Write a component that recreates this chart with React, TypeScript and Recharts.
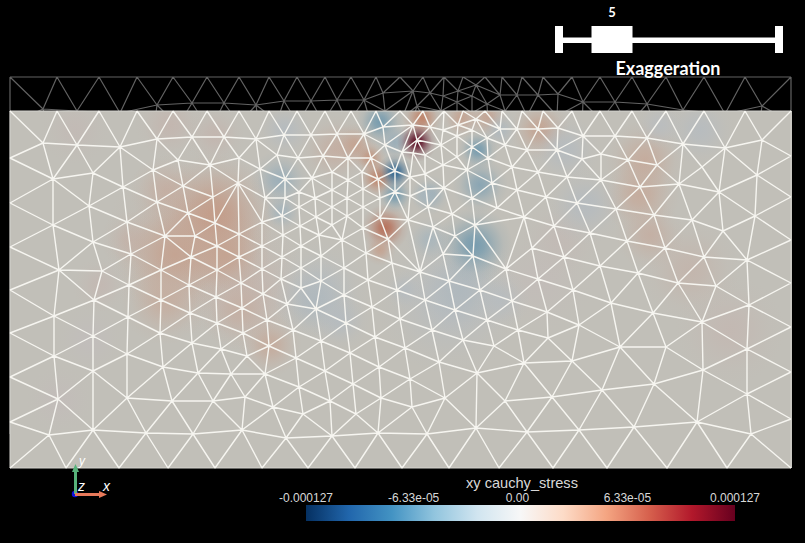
import React from 'react'
import { ComposedChart, Line, Scatter, XAxis, YAxis, ZAxis, ReferenceArea } from 'recharts'

const WIDTH = 805
const HEIGHT = 543

// mesh nodes, in picture units
const topEdge = [[10,111],[57,111],[99,111],[137,111],[173,111],[207,111],[239,111],[269,111],[297,111],[325,111],[351,111],[376,111],[400,111],[423,111],[444,111],[463,111],[485,111],[502,111],[522,111],[543,111],[572,111],[600,111],[632,111],[666,111],[704,111],[745,111],[791,111]]
const bottomEdge = [[10,468],[66,468],[119,468],[168,468],[215,468],[262,468],[308,468],[355,468],[402,468],[449,468],[499,468],[553,468],[607,468],[667,468],[727,468],[791,468]]
const sideEdges = [[10,158],[10,203],[10,247],[10,290],[10,333],[10,377],[10,422],[791,156],[791,197],[791,240],[791,283],[791,327],[791,372],[791,419]]
const leftNodes = [
  [43,143],[77,145],[120,147],[157,139],[192,137],[224,137],[256,139],[284,135],[311,135],[337,134],[364,134],[383,127],[385,145],
  [178,160],[210,165],[239,158],[260,169],[277,155],[298,158],[323,156],[348,158],[371,158],
  [53,179],[93,173],[123,187],[153,170],[183,186],[213,197],[238,183],[265,198],[285,179],[312,178],[332,172],[348,180],[362,172],[378,179],[363,189],[347,198],[332,190],[315,198],[299,192],[285,198],
  [53,225],[89,206],[127,222],[157,202],[188,213],[215,223],[239,234],[262,222],[282,216],[299,207],[316,217],[332,207],[347,216],[363,207],[380,198],[380,218],
  [93,242],[131,254],[165,236],[195,236],[217,246],[239,257],[262,246],[283,235],[300,226],[319,235],[332,225],[342,240],[363,228],[388,239],
  [59,270],[102,271],[161,270],[191,257],[217,270],[262,269],[282,257],[301,246],[301,268],[321,256],[344,268],[366,253],[392,263],
  [129,285],[94,300],[54,316],[161,300],[189,285],[216,297],[241,283],[263,294],[281,279],[301,288],[321,281],[344,295],[368,280],[397,290],
  [128,317],[190,313],[217,323],[242,308],[267,320],[287,304],[316,309],[346,323],[372,307],[400,319],
  [93,336],[160,333],[192,343],[221,349],[243,333],[269,346],[293,330],[321,341],[350,353],[375,337],
  [54,356],[127,354],[247,356],[296,358],[325,371],[353,384],[379,367],
  [93,371],[163,367],[198,373],[231,374],[265,374],[299,387],[330,401],[356,414],[381,398],
  [58,399],[127,398],[172,401],[213,401],[245,397],[273,407],[303,414],
  [49,435],[93,430],[146,433],[193,434],[242,430],[286,438],[332,436],[378,433],
]
const centerNodes = [
  [395,171],[395,192],[402,152],[413,153],[425,155],[417,140],[413,125],[430,127],[443,130],[441,145],[458,125],[457,136],[476,119],[472,130],[487,138],[472,147],[457,157],[488,158],
  [443,165],[467,170],[425,174],[410,177],[426,189],[444,188],[492,183],[472,198],[410,196],[428,207],[452,214],[497,208],[408,220],[433,227],[475,225],[455,236],[443,254],[473,256],[420,272],[506,269],
]
const rightNodes = [
  [500,129],[517,129],[538,129],[558,128],[583,136],[615,136],[647,138],[683,144],[725,148],[762,140],
  [505,145],[527,150],[557,150],[582,159],[601,154],[628,160],[657,165],[702,167],
  [512,167],[538,172],[567,177],[601,180],[640,187],[679,184],[719,192],[757,175],
  [517,190],[546,197],[577,203],[616,209],[654,215],[692,220],[723,231],[755,216],
  [524,217],[554,226],[590,233],[627,241],[665,248],[704,257],[747,260],
  [532,248],[564,257],[600,266],[638,273],[678,283],[716,286],
  [449,281],[480,290],[512,301],[538,279],[573,290],[611,303],[653,313],[702,322],[749,305],
  [425,300],[455,310],[487,320],[518,330],[547,312],[579,325],[620,347],[666,347],[747,349],
  [432,330],[463,340],[494,346],[524,363],[548,338],[572,361],[602,390],[654,384],[703,370],[747,394],
  [405,348],[439,362],[477,373],[410,379],[445,398],[505,401],[552,397],[697,422],[751,434],
  [412,407],[476,428],[427,434],[527,432],[579,430],[634,427],
]

// stress patches: centre x, centre y, reach, stress (1e-5)
const heatX = [200,250,450,320,540,60,90,75,170,215,165,130,100,215,175,225,165,240,270,335,730,690,645,640,650,560,540,285,315,340,460,500,565,585,700,660,405,430,430,280,282,355,462,488,500,422,380,395,478,480,475,378,385,380,370,395,395,425,417]
const heatY = [240,290,300,290,280,400,340,130,125,135,190,240,285,215,255,255,300,310,345,150,330,270,160,195,235,240,130,130,300,320,290,300,150,205,130,125,290,240,195,180,212,145,118,118,130,118,122,142,150,185,245,178,228,250,158,195,172,195,142]
const heatReach = [95,65,75,50,55,35,35,35,35,30,35,30,28,60,60,45,45,40,32,35,55,50,40,40,35,40,30,28,40,30,45,30,35,40,35,25,20,24,20,30,20,22,20,20,20,20,24,20,20,28,38,20,24,16,16,18,18,14,20]
const heatStress = [1.8,1.2,-0.8,-0.7,0.6,0.5,0.4,0.8,1.2,1.2,2,1.5,1,3.5,3,3,2.2,2,2.5,2,1,1.4,2.5,2.5,2,0.8,3,-1,-1.5,-1,-1.5,-0.8,-1,-1,-0.8,-0.6,-1,-2,-3,-3,-2.5,3,3,3,-1.5,5,-5,-3,-5,-4,-5,5,6,3,4,-5,-9,-2,12.5]

const rampStops = ['#053061','#2166ac','#4393c3','#92c5de','#d1e5f0','#f7f7f7','#fddbc7','#f4a582','#d6604d','#b2182b','#67001f']
const barTicks = [-0.000127, -0.0000633, 0, 0.0000633, 0.000127]
const barTickLabels = ['-0.000127', '-6.33e-05', '0.00', '6.33e-05', '0.000127']

type Pt = { x: number; y: number | null }

// Mesh connectivity comes from the node list (Bowyer-Watson)
function meshEdges(points: number[][]): number[][] {
  const pts = points.concat([[-5000, -5000], [7000, -5000], [400, 9000]])
  const n = points.length
  let tris: number[][] = [[n, n + 1, n + 2]]
  const inCircle = (t: number[], p: number[]) => {
    const [a, b, c] = t.map((i) => pts[i])
    const ax = a[0] - p[0], ay = a[1] - p[1]
    const bx = b[0] - p[0], by = b[1] - p[1]
    const cx = c[0] - p[0], cy = c[1] - p[1]
    const det =
      (ax * ax + ay * ay) * (bx * cy - cx * by) -
      (bx * bx + by * by) * (ax * cy - cx * ay) +
      (cx * cx + cy * cy) * (ax * by - bx * ay)
    const orient = (b[0] - a[0]) * (c[1] - a[1]) - (b[1] - a[1]) * (c[0] - a[0])
    return orient > 0 ? det > 0 : det < 0
  }
  points.forEach((p, i) => {
    const bad = tris.filter((t) => inCircle(t, p))
    const good = tris.filter((t) => !inCircle(t, p))
    const count = new Map<string, number>()
    bad.forEach((t) => {
      ;[[t[0], t[1]], [t[1], t[2]], [t[2], t[0]]].forEach(([u, v]) => {
        const k = u < v ? `${u}_${v}` : `${v}_${u}`
        count.set(k, (count.get(k) || 0) + 1)
      })
    })
    tris = good
    count.forEach((c, k) => {
      if (c === 1) {
        const [u, v] = k.split('_').map(Number)
        tris.push([u, v, i])
      }
    })
  })
  const seen = new Set<string>()
  const out: number[][] = []
  tris.forEach((t) => {
    ;[[t[0], t[1]], [t[1], t[2]], [t[2], t[0]]].forEach(([u, v]) => {
      if (u >= n || v >= n) return
      const k = u < v ? `${u}_${v}` : `${v}_${u}`
      if (!seen.has(k)) {
        seen.add(k)
        out.push([u, v])
      }
    })
  })
  return out
}

const meshNodes = [...topEdge, ...bottomEdge, ...sideEdges, ...leftNodes, ...centerNodes, ...rightNodes]
const edges = meshEdges(meshNodes)

const onRim = ([u, v]: number[]) => {
  const a = meshNodes[u]
  const b = meshNodes[v]
  return (a[0] === b[0] && (a[0] === 10 || a[0] === 791)) || (a[1] === b[1] && (a[1] === 111 || a[1] === 468))
}

const toSegments = (list: number[][], shift: number): Pt[] =>
  list.flatMap(([u, v]) => [
    { x: meshNodes[u][0], y: meshNodes[u][1] + shift },
    { x: meshNodes[v][0], y: meshNodes[v][1] + shift },
    { x: meshNodes[v][0], y: null },
  ])

const bodySegments = toSegments(edges.filter((e) => !onRim(e)), 0)
const rimSegments = toSegments(edges.filter(onRim), 0)
const bandSegments = toSegments(edges, -34)

const hexToRgb = (h: string) => [1, 3, 5].map((i) => parseInt(h.slice(i, i + 2), 16))

// surface is lit, so the ramp comes out dimmer than on the colour bar
const stressColor = (stress: number) => {
  const t = Math.min(1, Math.max(0, (stress + 12.7) / 25.4)) * (rampStops.length - 1)
  const i = Math.min(rampStops.length - 2, Math.floor(t))
  const a = hexToRgb(rampStops[i])
  const b = hexToRgb(rampStops[i + 1])
  const c = a.map((v, k) => Math.round((v + (b[k] - v) * (t - i)) * 0.78))
  return `rgb(${c[0]},${c[1]},${c[2]})`
}

const heatTable = heatX.map((x, i) => ({
  id: i,
  x,
  y: heatY[i],
  z: heatReach[i] * heatReach[i],
  stress: heatStress[i],
}))

const barTable = barTicks.map((value) => ({ value, level: 0.5 }))

const layer: React.CSSProperties = { position: 'absolute', left: 0, top: 0 }
const pageX = <XAxis type="number" dataKey="x" domain={[0, WIDTH]} hide allowDataOverflow />
const pageY = <YAxis type="number" dataKey="y" domain={[0, HEIGHT]} reversed hide allowDataOverflow />
const flat = { top: 0, right: 0, bottom: 0, left: 0 }

const HeatSpot = (props: any) => (
  <circle
    cx={props.cx}
    cy={props.cy}
    r={props.width / 2}
    fill={`url(#heat-${props.payload.id})`}
    clipPath="url(#body-clip)"
  />
)

const BarTick = (props: any) => {
  const i = barTicks.indexOf(props.payload.value)
  return (
    <text
      x={props.x + (i === 2 ? -3 : 0)}
      y={502}
      textAnchor="middle"
      fontFamily="Liberation Sans"
      fontSize={12}
      fill="#d8d8d8"
    >
      {barTickLabels[i]}
    </text>
  )
}

export default function App() {
  return (
    <div style={{ ...layer, width: WIDTH, height: HEIGHT, background: '#000', overflow: 'hidden' }}>
      {/* undeformed copy above the body */}
      <div style={layer}>
        <ComposedChart width={WIDTH} height={HEIGHT} margin={flat}>
          {pageX}
          {pageY}
          <Line data={bandSegments} dataKey="y" stroke="#626262" strokeWidth={1.2} dot={false} isAnimationActive={false} />
        </ComposedChart>
      </div>

      {/* body and stress field */}
      <div style={layer}>
        <ComposedChart width={WIDTH} height={HEIGHT} margin={flat}>
          <defs>
            <clipPath id="body-clip">
              <rect x={10} y={111} width={782} height={357} />
            </clipPath>
            {heatTable.map((h) => (
              <radialGradient key={h.id} id={`heat-${h.id}`}>
                <stop offset="0%" stopColor={stressColor(h.stress)} stopOpacity={0.95} />
                <stop offset="25%" stopColor={stressColor(h.stress)} stopOpacity={0.75} />
                <stop offset="50%" stopColor={stressColor(h.stress)} stopOpacity={0.4} />
                <stop offset="75%" stopColor={stressColor(h.stress)} stopOpacity={0.12} />
                <stop offset="100%" stopColor={stressColor(h.stress)} stopOpacity={0} />
              </radialGradient>
            ))}
          </defs>
          {pageX}
          {pageY}
          <ZAxis type="number" dataKey="z" domain={[0, 10000]} range={[0, Math.PI * 10000]} />
          <ReferenceArea x1={10} x2={792} y1={111} y2={468} fill="#c1bfb8" fillOpacity={1} stroke="none" />
          <Scatter data={heatTable} shape={HeatSpot} isAnimationActive={false} />
        </ComposedChart>
      </div>

      {/* wireframe */}
      <div style={layer}>
        <ComposedChart width={WIDTH} height={HEIGHT} margin={flat}>
          {pageX}
          {pageY}
          <Line data={rimSegments} dataKey="y" stroke="#d4d3ce" strokeWidth={1} dot={false} isAnimationActive={false} />
          <Line data={bodySegments} dataKey="y" stroke="#f6f5f0" strokeWidth={1.4} dot={false} isAnimationActive={false} />
        </ComposedChart>
      </div>

      {/* exaggeration slider, axes triad */}
      <div style={layer}>
        <ComposedChart width={WIDTH} height={HEIGHT} margin={flat}>
          {pageX}
          {pageY}
          <ReferenceArea x1={559} x2={779} y1={37.5} y2={43} fill="#fff" fillOpacity={1} stroke="none" />
          <ReferenceArea x1={555} x2={563} y1={26} y2={53} fill="#fff" fillOpacity={1} stroke="none" />
          <ReferenceArea x1={591.5} x2={632.5} y1={26} y2={53} fill="#fff" fillOpacity={1} stroke="none" />
          <ReferenceArea x1={775} x2={783} y1={26} y2={53} fill="#fff" fillOpacity={1} stroke="none" />
          <ReferenceArea x1={74} x2={77} y1={468} y2={494} fill="#57b27a" fillOpacity={1} stroke="none" />
          <ReferenceArea x1={75} x2={101} y1={493} y2={496} fill="#e8795a" fillOpacity={1} stroke="none" />
          <polygon points="75.5,464 72,472 79,472" fill="#57b27a" />
          <polygon points="107,494.5 99,491 99,498" fill="#e8795a" />
          <circle cx={75} cy={494} r={3.2} fill="#1111dd" />
          <text x={612} y={17} textAnchor="middle" fontFamily="Lato" fontWeight={700} fontSize={13} fill="#fff">5</text>
          <text x={668} y={75} textAnchor="middle" fontFamily="Lato" fontWeight={700} fontSize={18} fill="#fff">Exaggeration</text>
          <text x={79} y={465} fontFamily="Liberation Sans" fontStyle="italic" fontSize={12} fill="#fff">y</text>
          <text x={78} y={491} fontFamily="Liberation Sans" fontStyle="italic" fontSize={14} fill="#fff">z</text>
          <text x={103} y={491} fontFamily="Liberation Sans" fontStyle="italic" fontSize={14} fill="#fff">x</text>
          <text x={522} y={488} textAnchor="middle" fontFamily="Liberation Sans" fontSize={14.6} fill="#d8d8d8">xy cauchy_stress</text>
        </ComposedChart>
      </div>

      {/* colour bar */}
      <div style={layer}>
        <ComposedChart width={WIDTH} height={HEIGHT} data={barTable} margin={{ top: 499, right: 70, bottom: 22, left: 306 }}>
          <defs>
            <linearGradient id="stress-ramp" x1="0" y1="0" x2="1" y2="0">
              {rampStops.map((c, i) => (
                <stop key={c} offset={`${(i / (rampStops.length - 1)) * 100}%`} stopColor={c} />
              ))}
            </linearGradient>
          </defs>
          <XAxis
            type="number"
            dataKey="value"
            orientation="top"
            domain={[barTicks[0], barTicks[4]]}
            ticks={barTicks}
            interval={0}
            height={6}
            axisLine={false}
            tickLine={false}
            tick={BarTick}
          />
          <YAxis type="number" dataKey="level" domain={[0, 1]} hide />
          <ReferenceArea x1={barTicks[0]} x2={barTicks[4]} y1={0} y2={1} fill="url(#stress-ramp)" fillOpacity={1} stroke="none" />
          <Line dataKey="level" stroke="none" dot={false} isAnimationActive={false} />
        </ComposedChart>
      </div>
    </div>
  )
}
